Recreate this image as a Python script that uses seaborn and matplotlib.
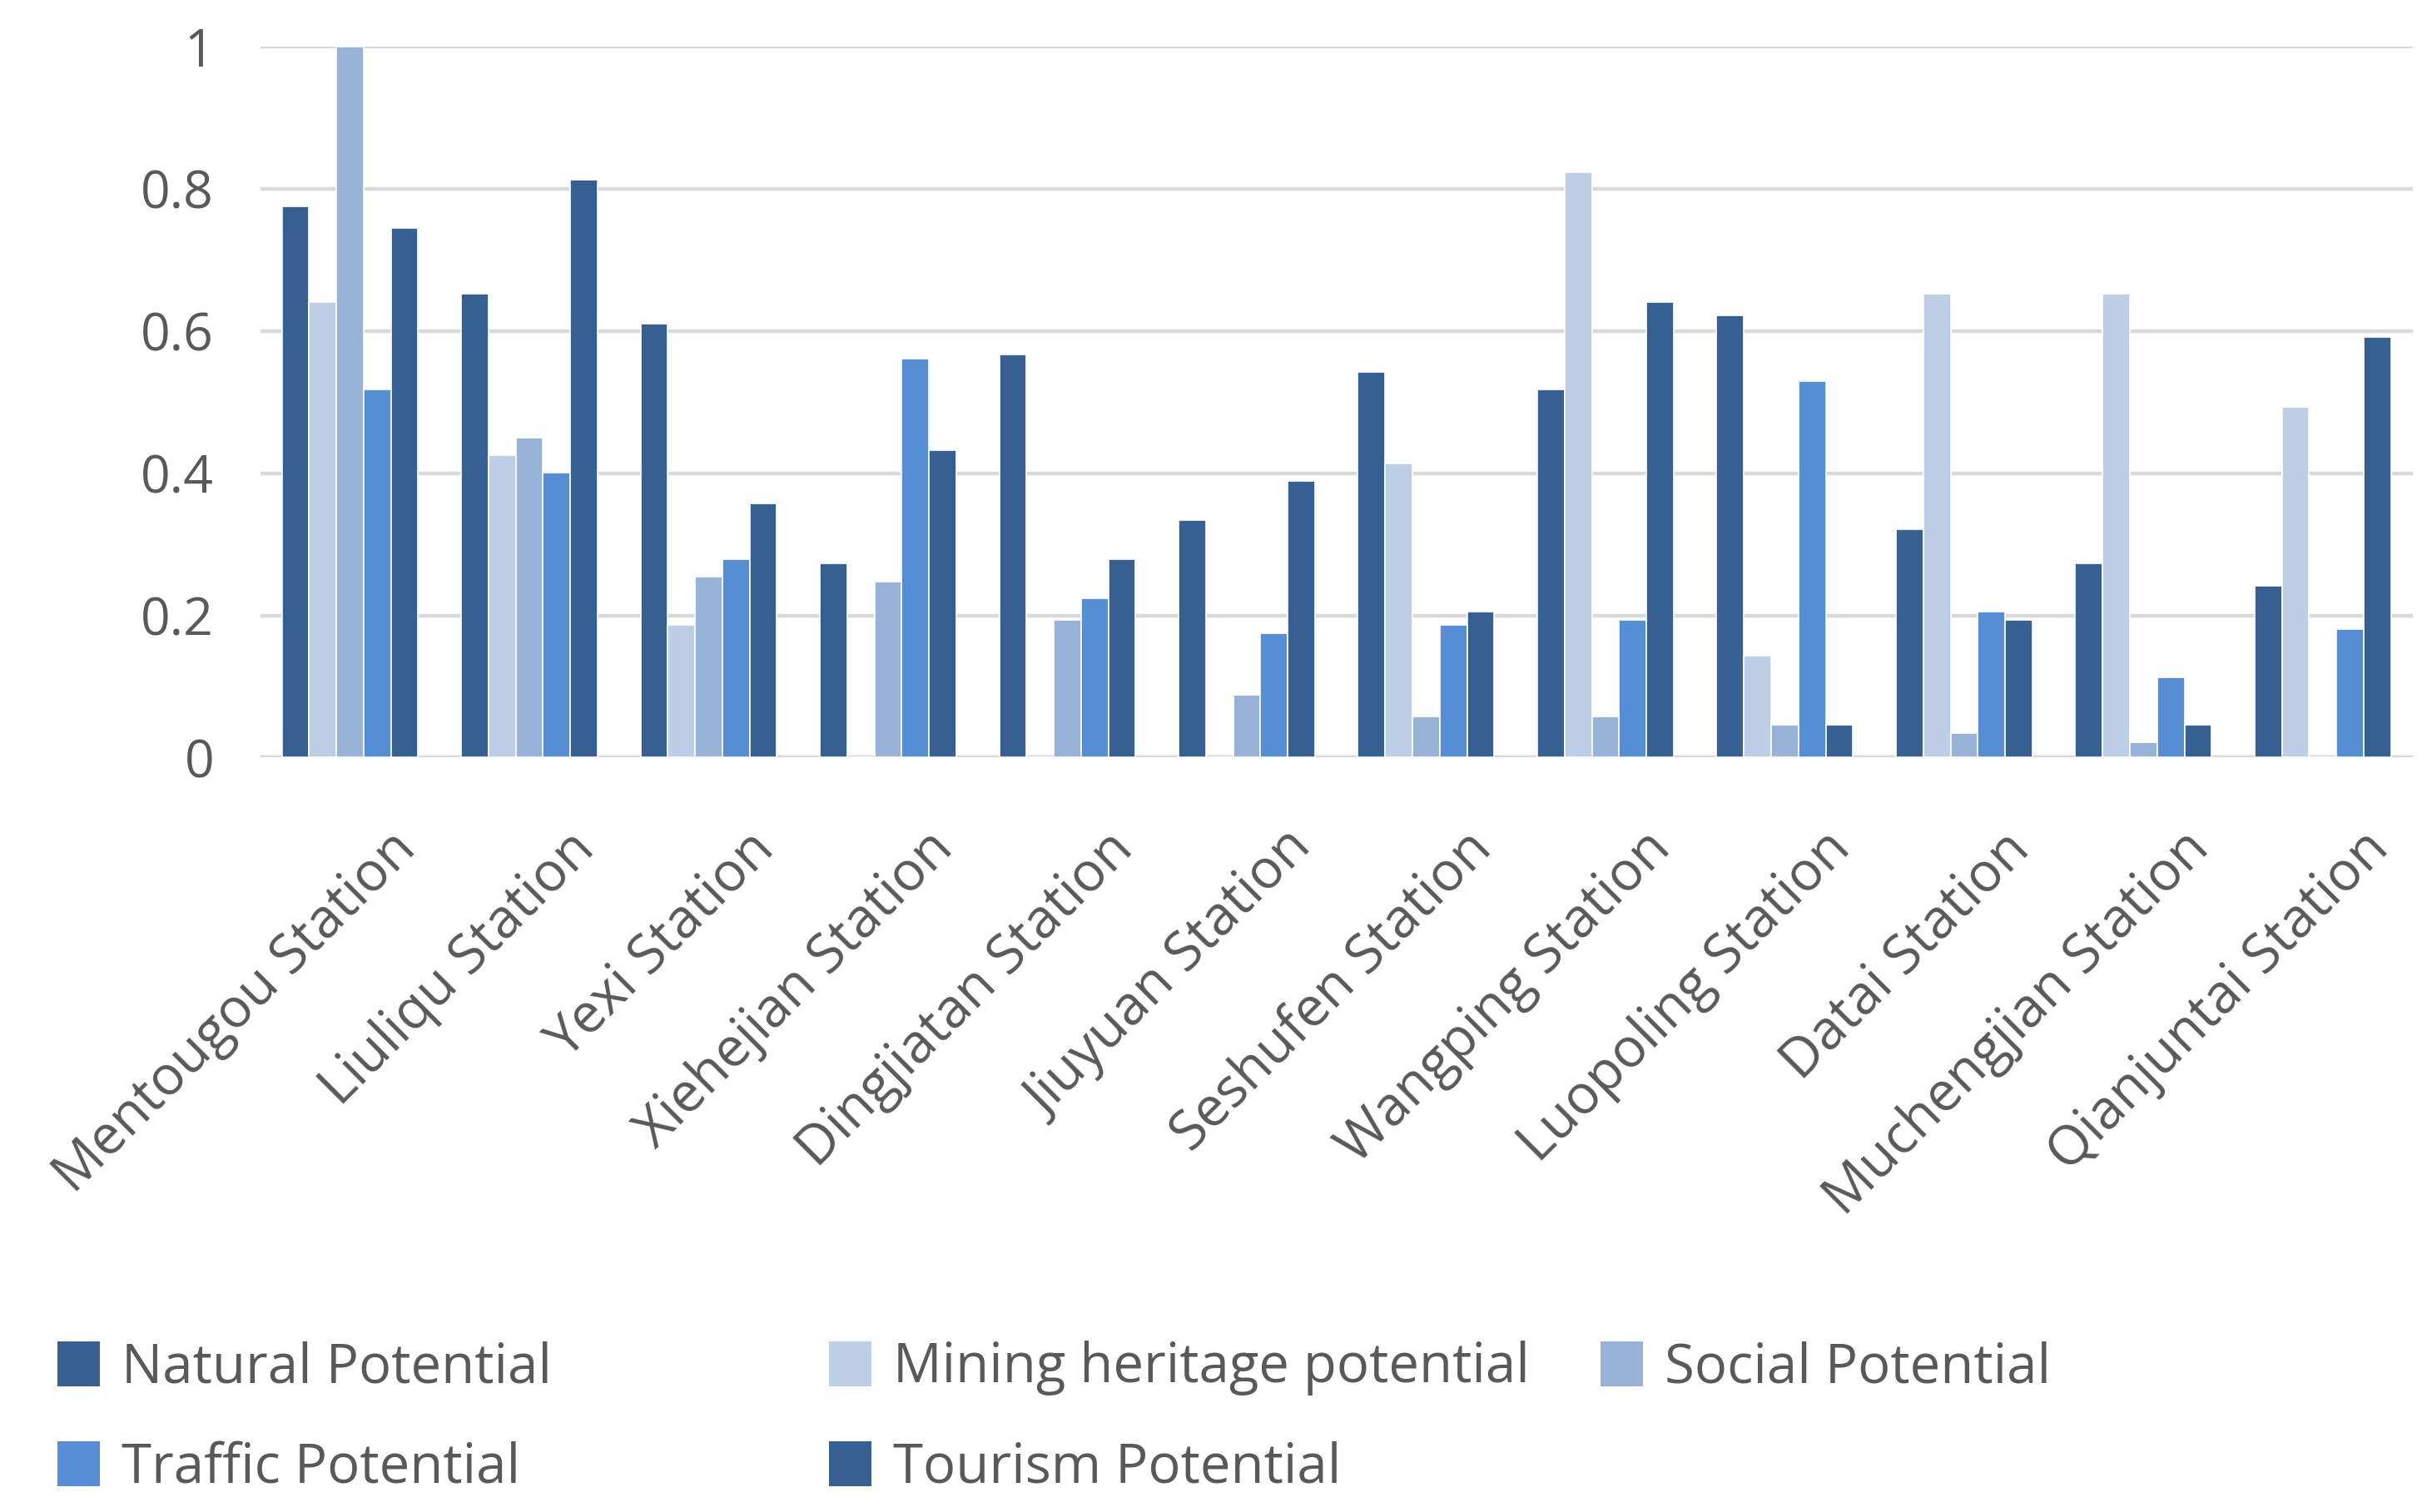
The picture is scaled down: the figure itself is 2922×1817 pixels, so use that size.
import pandas as pd
import seaborn as sns
import matplotlib.pyplot as plt
from matplotlib.transforms import ScaledTranslation
from matplotlib.patches import Patch

stations = ["Mentougou Station", "Liuliqu Station", "Yexi Station", "Xiehejian Station",
            "Dingjiatan Station", "Jiuyuan Station", "Seshufen Station", "Wangping Station",
            "Luopoling Station", "Datai Station", "Muchengjian Station", "Qianjuntai Station"]

natural = [0.775, 0.653, 0.610, 0.273, 0.567, 0.334, 0.543, 0.518, 0.622, 0.321, 0.273, 0.242]
mining = [0.641, 0.426, 0.186, 0.0, 0.0, 0.0, 0.414, 0.824, 0.143, 0.653, 0.653, 0.493]
social = [1.0, 0.450, 0.254, 0.248, 0.193, 0.088, 0.058, 0.058, 0.046, 0.034, 0.021, 0.0]
traffic = [0.518, 0.401, 0.279, 0.561, 0.224, 0.175, 0.186, 0.193, 0.530, 0.205, 0.113, 0.181]
tourism = [0.745, 0.813, 0.358, 0.433, 0.279, 0.389, 0.205, 0.641, 0.046, 0.193, 0.046, 0.592]

series = ["Natural Potential", "Mining heritage potential", "Social Potential",
          "Traffic Potential", "Tourism Potential"]
colors = ["#376092", "#BCCFE7", "#97B4D8", "#558ED5", "#376092"]

yticks = [0, 0.2, 0.4, 0.6, 0.8, 1]
ytick_labels = ["0", "0.2", "0.4", "0.6", "0.8", "1"]

## long format table for seaborn
rows = []
for name, vals in zip(series, [natural, mining, social, traffic, tourism]):
    for st, v in zip(stations, vals):
        rows.append({"Station": st, "Series": name, "Value": v})
df = pd.DataFrame(rows)

sns.set_theme(style="white")
plt.rcParams["font.family"] = ["Open Sans", "DejaVu Sans"]
text_color = "#595959"
fs = 47

fig = plt.figure(figsize=(29.22, 18.17), dpi=100)
ax = fig.add_axes([0.107, 0.499, 0.885, 0.470])

sns.barplot(data=df, x="Station", y="Value", hue="Series", order=stations,
            hue_order=series, palette=dict(zip(series, colors)), width=0.76,
            saturation=1, edgecolor="white", linewidth=1.2, legend=False,
            ax=ax, zorder=3)

ax.set_ylim(0, 1)
ax.set_xlim(-0.5, len(stations) - 0.5)
ax.set_yticks(yticks)
ax.set_yticklabels(ytick_labels)
ax.yaxis.grid(True, color="#D9D9D9", linewidth=3.2, zorder=0)
ax.set_axisbelow(True)
for s in ax.spines.values():
    s.set_visible(False)
ax.axhline(0, color="#D9D9D9", linewidth=3.2, zorder=1)
ax.set_xlabel("")
ax.set_ylabel("")
ax.tick_params(axis="y", length=0, pad=40, labelsize=45, labelcolor=text_color)
ax.tick_params(axis="x", length=0, pad=0, labelsize=fs, labelcolor=text_color)

ax.set_xticks(range(len(stations)))
ax.set_xticklabels(stations, rotation=45, ha="right", va="center", rotation_mode="anchor")
offset = ScaledTranslation(0.69, -1.0, fig.dpi_scale_trans)
for lab in ax.get_xticklabels():
    lab.set_transform(lab.get_transform() + offset)

## legend laid out in fixed columns like the original
pos = [(0.0237, 0.095), (0.341, 0.095), (0.658, 0.095), (0.0237, 0.029), (0.341, 0.029)]
for name, col, (x, y) in zip(series, colors, pos):
    fig.legend(handles=[Patch(facecolor=col, edgecolor="none")], labels=[name],
               loc="center left", bbox_to_anchor=(x, y), frameon=False,
               fontsize=fs, labelcolor=text_color, handlelength=0.78, handleheight=0.9,
               handletextpad=0.4, borderpad=0, borderaxespad=0)

fig.savefig("out.png", dpi=100)
